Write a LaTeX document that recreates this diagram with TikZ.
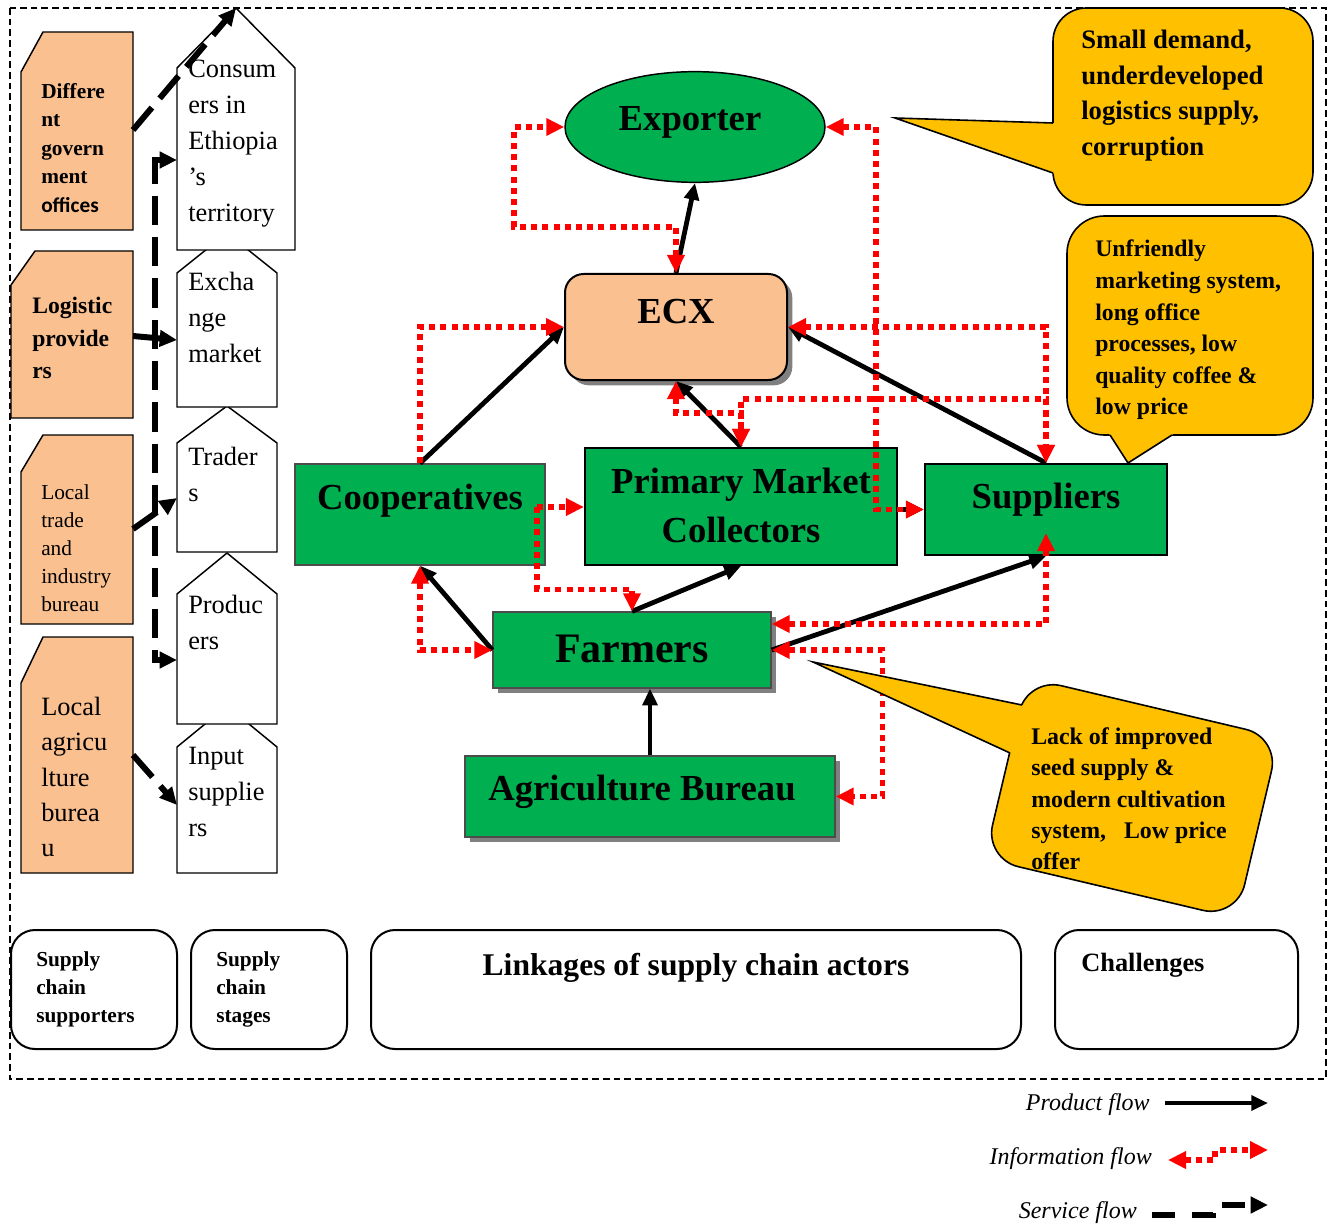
\documentclass[tikz,border=0pt]{standalone}
\usepackage{fontspec}
\setmainfont{Liberation Serif}
\newfontfamily\carlitofont{Carlito}
\usetikzlibrary{arrows.meta,fit,shadows,calc,shapes.geometric}
\definecolor{grn}{HTML}{00B050}
\definecolor{peach}{HTML}{FAC090}
\definecolor{yel}{HTML}{FFC000}
\definecolor{shad}{HTML}{808080}
\definecolor{infored}{HTML}{FF0000}
\newcommand\myfs[2]{\fontsize{#1}{#2}\selectfont}
\tikzset{
  ptip/.tip={Triangle[length=12.5pt,width=11pt]},
  itip/.tip={Triangle[length=13.5pt,width=12.5pt]},
  stip/.tip={Triangle[length=13pt,width=12pt]},
  gbox/.style={draw=black!70, fill=grn, line width=1pt, inner sep=0pt},
  gboxk/.style={draw=black, fill=grn, line width=1.6pt, inner sep=0pt},
  shadowed/.style={drop shadow={shadow xshift=4pt, shadow yshift=-4pt, fill=shad, opacity=1}},
  big/.style={font=\myfs{27.5}{33}\bfseries, inner sep=0pt, anchor=base, align=center},
  supbox/.style={draw=black, fill=peach, line width=1.1pt},
  stagebox/.style={draw=black, fill=white, line width=1.1pt},
  ltext/.style={anchor=north west, inner sep=0pt, align=left},
  prod/.style={line width=3.6pt, -ptip},
  info/.style={infored, line width=4.2pt, dash pattern=on 4.5pt off 3.9pt},
  serv/.style={line width=4.5pt, dash pattern=on 22pt off 9pt},
  callout/.style={draw=black, fill=yel, line width=1.2pt},
  keybox/.style={draw=black, line width=1.5pt, rounded corners=18pt, inner sep=0pt},
  legtext/.style={font=\myfs{18}{22}\itshape, anchor=base east, inner sep=0pt},
}
\begin{document}
\begin{tikzpicture}[x=0.75pt,y=-0.75pt]
\useasboundingbox (0,0) rectangle (1333,1226);
% frame
\draw[line width=0.9pt, dash pattern=on 5pt off 3pt] (10,8) rectangle (1326,1079);

% ---------------- supporters
\draw[supbox] (43,32) -- (133,32) -- (133,230) -- (21,230) -- (21,72) -- cycle;
\node[ltext, font=\myfs{16}{21.4}\bfseries] (govt) at (41,83) {Differe\\nt\\govern\\ment\\{\carlitofont offices}};
\draw[supbox] (35,251) -- (133,251) -- (133,418) -- (11,418) -- (11,285) -- cycle;
\node[ltext, font=\myfs{17.7}{24.4}\bfseries] (logi) at (32,297) {Logistic\\provide\\rs};
\draw[supbox] (43,435) -- (133,435) -- (133,624) -- (21,624) -- (21,472) -- cycle;
\node[ltext, font=\myfs{16}{21}] (trade) at (41,484) {Local\\trade\\and\\industry\\bureau};
\draw[supbox] (43,637) -- (133,637) -- (133,873) -- (21,873) -- (21,683) -- cycle;
\node[ltext, font=\myfs{19.8}{26.5}] (agri) at (41,697) {Local\\agricu\\lture\\burea\\u};

% ---------------- stages
\draw[stagebox] (177,873) -- (177,747) -- (227,706) -- (277,747) -- (277,873) -- cycle;
\draw[stagebox] (177,724) -- (177,594) -- (227,553) -- (277,594) -- (277,724) -- cycle;
\draw[stagebox] (177,552) -- (177,443) -- (227,406) -- (277,443) -- (277,552) -- cycle;
\draw[stagebox] (177,407) -- (177,273) -- (227,233) -- (277,273) -- (277,407) -- cycle;
\draw[stagebox] (177,250) -- (177,68) -- (236,8) -- (295,68) -- (295,250) -- cycle;
\node[ltext, font=\myfs{19.8}{27}] (cons) at (188,60) {Consum\\ers in\\Ethiopia\\’s\\territory};
\node[ltext, font=\myfs{19.8}{27}] (exch) at (188,272) {Excha\\nge\\market};
\node[ltext, font=\myfs{19.8}{27}] (trad) at (188,447) {Trader\\s};
\node[ltext, font=\myfs{19.8}{27}] (prodc) at (188,595) {Produc\\ers};
\node[ltext, font=\myfs{19.8}{27}] (inp) at (188,747) {Input\\supplie\\rs};

% ---------------- actors
\node[ellipse, draw=black, line width=1.1pt, fill=grn, minimum width=195pt, minimum height=83pt, inner sep=0pt] (exp) at (695,127) {};
\node[big] (expt) at (690,131) {Exporter};
\node[draw=black, line width=1.5pt, fill=peach, rounded corners=14pt, shadowed, inner sep=0pt, fit={(565,274)(787,380)}] (ecx) {};
\node[big] (ecxt) at (676,324) {ECX};
\node[gbox, fit={(295,464)(545,565)}] (coop) {};
\node[big] (coopt) at (420,509) {Cooperatives};
\node[gboxk, fit={(585,448)(897,565)}] (pmc) {};
\node[big] (pmct1) at (741,493) {Primary Market};
\node[big] (pmct2) at (741,542) {Collectors};
\node[gboxk, fit={(925,464)(1167,555)}] (sup) {};
\node[big] (supt) at (1046,508) {Suppliers};
\node[gbox, shadowed, fit={(493,612)(771,688)}] (farm) {};
\node[big, font=\myfs{31.5}{36}\bfseries] (farmt) at (632,662) {Farmers};
\node[gbox, shadowed, fit={(465,756)(835,837)}] (agb) {};
\node[big] (agbt) at (642,800) {Agriculture Bureau};

% ---------------- product flow
\draw[prod] (ecx.north) -- (exp.south);
\draw[prod] (coop.north) -- (ecx.west);
\draw[prod] (pmc.north) -- (ecx.south);
\draw[prod] (sup.north) -- (ecx.east);
\draw[prod] (farm.west) -- (coop.south);
\draw[prod] (farm.north) -- (pmc.south);
\draw[prod] (farm.east) -- (sup.south);
\draw[prod] (agb.north) -- (agb.north |- farm.south);
\draw[prod] (pmc.east |- sup.west) -- (sup.west);

% ---------------- information flow
\draw[info, itip-itip] (ecx.north) -- ++(0,-46) -| ($(exp.west)+(-50,0)$) -- (exp.west);
\draw[info, itip-itip] (exp.east) -- ++(50,0) |- (sup.west);
\draw[info, itip-itip] (ecx.east) -| (sup.north);
\draw[info, -itip] (coop.north) |- (ecx.west);
\coordinate (cj) at (537,507);
\draw[info, -itip] (cj) -- (cj -| pmc.west);
\draw[info, -itip] (cj) |- ($(farm.north)+(0,-22)$) -- (farm.north);
\draw[info, itip-itip] (coop.south) |- (farm.west);
\draw[info, itip-itip] (ecx.south) -- ++(0,32) -| (pmc.north);
\draw[info, itip-itip] (pmc.north) -- ++(0,-48) -| (sup.north);
\draw[info, itip-itip] ($(sup.south)+(0,-23)$) |- ($(farm.east)+(0,-26)$);
\draw[info, itip-itip] (farm.east) -- ++(111,0) |- (agb.east);

% ---------------- service flow
\coordinate (govR) at (133,130);   \coordinate (consTop) at (236,8);
\coordinate (logR) at (133,336);   \coordinate (exchL) at (177,340);
\coordinate (tradeR) at (133,529); \coordinate (tradL) at (177,498);
\coordinate (agriR) at (133,755);  \coordinate (inpL) at (177,805);
\coordinate (consL) at (177,160);  \coordinate (prodL) at (177,660);
\draw[serv, -stip] (govR) -- (consTop);
\draw[serv, -stip] (logR) -- (exchL);
\draw[serv, -stip] (tradeR) -- (tradL);
\draw[serv, -stip] (agriR) -- (inpL);
\draw[serv, stip-stip] (consL) -- ++(-22,0) -- ++(0,500) -- (prodL);

% ---------------- challenges (callouts)
\draw[callout, rounded corners=25pt] (1053,8) rectangle (1313,205);
\fill[yel] (1061,123.3) -- (895,118) -- (1061,176) -- cycle;
\draw[callout, fill=none] (1053,123) -- (895,118) -- (1053,173);
\node[ltext, font=\myfs{20}{26.6}\bfseries] (ch1) at (1081,30) {Small demand,\\underdeveloped\\logistics supply,\\corruption};

\draw[callout, rounded corners=28pt] (1067,216) rectangle (1313,435);
\fill[yel] (1106,429) -- (1128,463) -- (1181,429) -- cycle;
\draw[callout, fill=none] (1110,435) -- (1128,463) -- (1172,435);
\node[ltext, font=\myfs{17.8}{23.7}\bfseries] (ch2) at (1095,240) {Unfriendly\\marketing system,\\long office\\processes, low\\quality coffee \&\\low price};

\begin{scope}[shift={(1132,798)}, rotate=-13.3]
  \draw[callout, rounded corners=26pt] (-129.5,-93) -- (129.5,-93) -- (129.5,93) -- (-129.5,93) -- cycle;
\end{scope}
\coordinate (c3tip) at (813,662);
\fill[yel] (1031,707) -- (c3tip) -- (1019,757) -- cycle;
\draw[callout, fill=none] (1022,705) -- (c3tip) -- (1010,753);
\node[ltext, font=\myfs{17.9}{23.6}\bfseries] (ch3) at (1031,727) {Lack of improved\\seed supply \&\\modern cultivation\\system,\ \ \ Low price\\offer};

% ---------------- key boxes
\node[keybox, fit={(11,930)(177,1049)}] (k1) {};
\node[ltext, font=\myfs{16}{21}\bfseries] (k1t) at (36,951) {Supply\\chain\\supporters};
\node[keybox, fit={(191,930)(347,1049)}] (k2) {};
\node[ltext, font=\myfs{16}{21}\bfseries] (k2t) at (216,951) {Supply\\chain\\stages};
\node[keybox, fit={(371,930)(1021,1049)}] (k3) {};
\node[font=\myfs{23.7}{28}\bfseries, anchor=base, inner sep=0pt] (k3t) at (696,975) {Linkages of supply chain actors};
\node[keybox, fit={(1055,930)(1298,1049)}] (k4) {};
\node[font=\myfs{19.8}{24}\bfseries, anchor=base west, inner sep=0pt] (k4t) at (1081,971) {Challenges};

% ---------------- legend
\node[legtext] (lp) at (1150,1110) {Product flow};
\node[legtext] (li) at (1152,1164) {Information flow};
\node[legtext] (ls) at (1137,1218) {Service flow};
\coordinate (lp1) at (1165,1103); \coordinate (lp2) at (1268,1103);
\draw[prod] (lp1) -- (lp2);
\coordinate (li1) at (1168,1160); \coordinate (li2) at (1268,1150);
\draw[info, itip-itip] (li1) -- (1215,1160) -- (1215,1150) -- (li2);
\coordinate (ls1) at (1152,1215); \coordinate (ls2) at (1268,1205);
\draw[serv, dash pattern=on 17pt off 13pt, -stip] (ls1) -- (1213,1215) -- (1213,1205) -- (ls2);
\end{tikzpicture}
\end{document}
